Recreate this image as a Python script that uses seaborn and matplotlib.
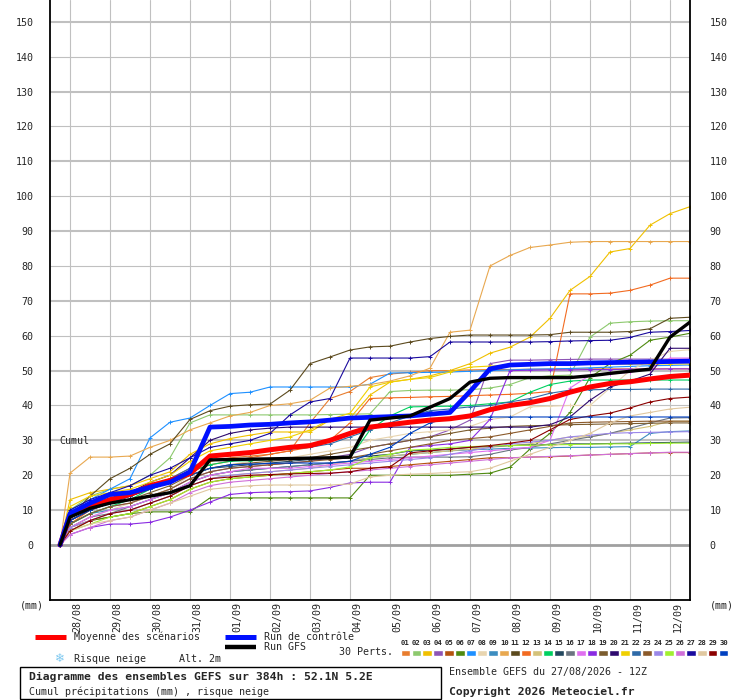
"""
Diagramme des ensembles GEFS : cumul de précipitations (style Meteociel)
"""

import numpy as np
import pandas as pd
import matplotlib.pyplot as plt
import seaborn as sns
from matplotlib.lines import Line2D
from matplotlib.patches import Rectangle
from matplotlib import transforms

# ---------- données ----------
heures = [6, 12, 24, 36, 48, 60, 72, 84, 96, 108, 120, 132, 144, 156, 168, 180, 192,
          204, 216, 228, 240, 252, 264, 276, 288, 300, 312, 324, 336, 348, 360, 372, 384]

jours_h = [12, 36, 60, 84, 108, 132, 156, 180, 204, 228, 252, 276, 300, 324, 348, 372]
jours_lbl = ['28/08', '29/08', '30/08', '31/08', '01/09', '02/09', '03/09', '04/09',
             '05/09', '06/09', '07/09', '08/09', '09/09', '10/09', '11/09', '12/09']

moyenne = [0, 8.6, 11, 13, 14.5, 17, 18.5, 20.5, 25.5, 26, 26.5, 27.3, 28, 28.5, 30, 32,
           33.8, 34.5, 35.2, 35.8, 36.2, 37, 38.8, 40, 40.8, 42, 43.8, 45.3, 46.3, 46.8,
           47.6, 48.3, 48.7]
controle = [0, 9, 12, 14.5, 15, 16.6, 18, 21, 33.8, 34, 34.4, 34.6, 35, 35.3, 35.8, 36.4,
            36.6, 36.8, 37, 37.5, 38, 44, 50.5, 51.6, 51.8, 52, 52, 52.2, 52.3, 52.4,
            52.5, 52.6, 52.7]
gfs = [0, 8, 10.5, 12, 13, 14, 15, 17, 24.4, 24.5, 24.6, 24.7, 24.8, 24.9, 25, 25.2,
       35.8, 36.4, 37, 39.5, 42, 46.7, 47.8, 48, 48, 48, 48, 48.5, 49.2, 49.8, 50.4,
       59.6, 63.9]

perts = {
    '01': [0, 9, 12, 14, 15, 17, 19, 22, 24, 25, 25.5, 26, 27, 35, 42, 44, 48, 49, 49.5,
           50, 50, 50.2, 50.3, 50.3, 50.4, 50.4, 50.5, 50.5, 50.5, 50.5, 50.5, 50.5, 50.5],
    '02': [0, 10, 14, 16, 17, 20, 25, 35, 37.3, 37.3, 37.3, 37.3, 37.3, 37.3, 37.4, 37.5,
           37.6, 44, 44.3, 44.4, 44.4, 44.5, 45, 46, 48, 48.5, 48.7, 59.6, 63.6, 64, 64.2,
           64.3, 64.3],
    '03': [0, 13, 15, 16, 17, 19, 21, 26, 29, 30.5, 31.5, 32.4, 32.4, 32.4, 35.8, 36.4,
           43, 46.7, 47.5, 48.5, 50, 52, 55, 56.7, 59.6, 65, 73, 77, 84, 85, 91.7, 95, 97],
    '04': [0, 6, 9, 11, 12, 14, 16, 19, 21, 22, 22.5, 23, 23.5, 24, 25, 26, 28, 29, 30,
           31, 33, 35.8, 52, 53, 53, 53.1, 53.2, 53.3, 53.3, 53.3, 53.3, 53.3, 53.3],
    '05': [0, 5, 7, 8, 9, 11, 13, 16, 18, 19, 19.5, 20, 20.5, 21, 21.5, 22, 22, 22.5, 23,
           23.5, 24, 24.5, 25, 25, 25.2, 25.3, 25.5, 25.8, 26, 26.2, 26.4, 26.5, 26.5],
    '06': [0, 4, 7, 8, 9, 9.5, 9.5, 9.5, 13.5, 13.5, 13.5, 13.5, 13.5, 13.5, 13.5, 13.5,
           20, 20, 20, 20, 20, 20.3, 20.6, 22.3, 27.5, 32, 38, 48, 52, 54.4, 58.7, 59.6, 60.7],
    '07': [0, 10, 13, 16, 19, 30.7, 35.2, 36.4, 40, 43.4, 43.8, 45.3, 45.3, 45.3, 45.3,
           45.3, 46.1, 49.3, 49.4, 49.5, 49.6, 49.8, 50, 50.2, 50.4, 50.5, 50.6, 50.8, 51,
           51.2, 51.4, 51.5, 51.6],
    '08': [0, 5, 8, 10, 12, 14, 16, 20, 22, 23, 24, 24.5, 25, 26, 27, 28, 30, 31, 32, 32.5,
           33, 34, 36, 36.7, 39.6, 39.8, 40, 40, 45, 50, 53, 55.5, 56],
    '09': [0, 6, 9, 10, 11, 13, 15, 18, 20, 21, 21.5, 22, 22.5, 23, 23.5, 24, 25, 25.5, 26,
           26.5, 27, 27.3, 27.5, 27.7, 27.8, 27.9, 28, 28, 28.1, 28.2, 32, 32.5, 32.7],
    '10': [0, 20.6, 25.2, 25.2, 25.5, 28, 30, 33, 35, 37, 38, 40, 40.5, 41.5, 45, 45.5, 46,
           47, 48.5, 50.7, 61, 61.6, 80, 83, 85.3, 86, 86.8, 87, 87, 87, 87, 87, 87],
    '11': [0, 8, 14, 19, 22, 26, 29, 36, 38.5, 39.8, 40.2, 40.4, 44.4, 52, 53.9, 55.9,
           56.8, 57, 58.2, 59.2, 59.8, 60.2, 60.2, 60.2, 60.2, 60.3, 61, 61, 61, 61.2, 62,
           65, 65.3],
    '12': [0, 6, 10, 12, 14, 16, 18, 21, 23, 24, 25, 26, 27, 28, 30, 35, 42, 42.2, 42.3,
           42.5, 42.6, 42.8, 43, 43.2, 43.5, 44, 72, 72, 72.2, 73, 74.5, 76.5, 76.5],
    '13': [0, 4, 7, 9, 10, 12, 14, 17, 19, 20, 20.5, 21, 21.5, 22, 23, 24, 25, 25.5, 26,
           26.5, 27, 27.5, 28, 28.5, 29, 30, 31, 31, 32, 33, 34, 35.5, 35.5],
    '14': [0, 6, 9, 11, 13, 16, 18, 21, 23, 24, 24.2, 24.5, 24.7, 24.8, 24.9, 25, 33, 37,
           39.6, 39.7, 39.8, 40, 40.5, 41, 43.8, 46, 47, 47.3, 47.3, 47.3, 47.3, 47.3, 47.3],
    '15': [0, 7, 10, 12, 14, 16, 18, 20, 22, 22.5, 23, 23.5, 24, 24.5, 25, 25, 25.5, 26, 27,
           27.2, 27.5, 28, 28.3, 28.5, 28.7, 28.8, 29, 29, 29.1, 29.2, 29.3, 29.4, 29.5],
    '16': [0, 5, 8, 9, 11, 13, 15, 18, 20, 21, 21.5, 22, 22.5, 23, 23.5, 24, 24.5, 25, 25.2,
           25.2, 25.2, 25.3, 26, 27.2, 28, 29, 30, 31, 32, 33.5, 35, 36.4, 36.5],
    '17': [0, 5, 8, 10, 11, 13, 15, 18, 20, 21, 22, 22, 22, 22.5, 23, 23.5, 24, 24.5, 25,
           25.5, 26, 26.5, 27, 27.5, 28, 30, 45, 48.7, 49, 49.5, 50.5, 53.6, 53.6],
    '18': [0, 3, 5, 6, 6, 6.5, 8, 10, 12.3, 14.5, 15, 15.2, 15.3, 15.5, 16.5, 17.8, 18, 18,
           28, 28.5, 29, 30, 36, 50, 50.1, 50.2, 50.2, 50.3, 50.3, 50.4, 50.4, 50.5, 50.5],
    '19': [0, 7, 10, 12, 13, 15, 17, 20, 22, 23, 23.5, 24, 24.5, 25, 26, 27, 28, 29, 30,
           31, 32, 33, 33.5, 34, 34.2, 34.3, 34.5, 34.6, 34.7, 34.8, 34.9, 35, 35],
    '20': [0, 7, 10, 13, 15, 18, 20, 25, 30, 32, 33, 33.5, 33.8, 33.8, 33.8, 33.8, 33.8,
           33.8, 33.8, 33.8, 33.8, 33.8, 33.8, 33.8, 33.8, 34.5, 36.7, 41.5, 45.3, 47, 49,
           56.4, 56.4],
    '21': [0, 11, 14, 15, 16, 18, 20, 24, 27, 28, 29, 30, 31, 33, 36, 37.8, 45.3, 46.7,
           47.5, 48, 49.6, 51, 51.3, 51.5, 51.6, 51.7, 51.8, 51.9, 51.9, 51.9, 51.9, 51.9, 51.9],
    '22': [0, 8, 11, 13, 15, 17, 19, 22, 25, 26, 26.5, 27, 27.5, 28, 29, 31, 33, 35, 37,
           38.5, 39, 39.6, 40, 41, 42, 43.5, 44.4, 44.5, 44.6, 44.6, 44.7, 44.7, 44.7],
    '23': [0, 6, 9, 11, 12, 14, 16, 19, 21, 22, 22.5, 23, 23.5, 24, 24.5, 25, 26, 27, 28,
           29, 30, 30.5, 31, 32, 33, 34, 35, 35.2, 35.3, 35.4, 35.5, 35.5, 35.5],
    '24': [0, 5, 7, 9, 10, 12, 14, 17, 19, 20, 20.5, 21, 21.5, 22, 22.5, 23, 23.5, 24,
           24.5, 25, 26, 27, 28, 29, 29.5, 30, 31, 31.5, 32, 32.2, 32.3, 32.4, 32.5],
    '25': [0, 4, 6, 8, 9, 11, 13, 16, 18, 19, 19.5, 20, 20.5, 21, 21.5, 22.4, 25, 26, 27.2,
           27.5, 28, 28.2, 28.4, 28.5, 28.6, 28.7, 28.8, 28.9, 29, 29, 29.1, 29.2, 29.2],
    '26': [0, 3, 5, 7, 8, 10, 12, 15, 17, 18, 18.5, 19, 19.5, 20, 20.5, 21, 21.5, 22, 22.5,
           23, 23.5, 24, 24.5, 25, 25.2, 25.4, 25.6, 25.8, 26, 26.2, 26.4, 26.6, 26.6],
    '27': [0, 10, 13, 15, 17, 20, 22, 25, 28, 29, 30, 32, 37.3, 41, 42, 53.6, 53.6, 53.6,
           53.6, 54, 58.2, 58.2, 58.2, 58.2, 58.2, 58.3, 58.5, 58.6, 58.7, 59.5, 61, 61.2, 61.5],
    '28': [0, 4, 6, 7, 8, 10, 12, 14, 16, 16.5, 17, 17.2, 17.2, 17.2, 17.2, 17.5, 19.5, 20,
           20.3, 20.5, 20.8, 21, 22, 24, 26, 28, 30, 32, 35, 37, 38, 39, 39.5],
    '29': [0, 4, 7, 9, 10, 12, 14, 17, 19, 19.5, 20, 20.2, 20.4, 20.5, 20.6, 21, 22, 22.4,
           26.4, 27, 27.5, 28, 28.5, 29.2, 30, 33, 36, 37, 37.8, 39.3, 41, 42, 42.4],
    '30': [0, 7, 10, 12, 14, 16, 18, 20, 22, 23, 23.2, 23.4, 23.5, 23.5, 23.5, 24, 26, 28,
           32, 35, 36.5, 36.7, 36.7, 36.7, 36.7, 36.7, 36.7, 36.7, 36.7, 36.7, 36.7, 36.7, 36.7],
}

couleurs = ['#e87d2f', '#8dc96e', '#f0c000', '#8e55b5', '#b5530e', '#4f8a10', '#1e90ff',
            '#e8d5b0', '#3c8dc0', '#e8a850', '#5c4a1e', '#f26b21', '#d4c27a', '#00d060',
            '#24475e', '#6b7480', '#e070f0', '#8a2be2', '#7b5c2e', '#2e0a6e', '#f0d000',
            '#2e6aa8', '#8b5a2b', '#9b88e8', '#a0f030', '#d070d8', '#1a0a9e', '#e0c8a0',
            '#8b0000', '#0040c0']

for k, v in perts.items():
    assert len(v) == len(heures), k

# ---------- mise en forme ----------
sns.set_style('white')
plt.rcParams['font.family'] = ['DejaVu Sans Mono', 'DejaVu Sans']

W, H = 740, 700


def fx(x):
    return x / W


def fy(y):
    return 1 - y / H


fig = plt.figure(figsize=(7.4, 7.0), dpi=100)
ax = fig.add_axes([fx(50), fy(600), fx(640), 600 / H])

# grille
for h in jours_h:
    ax.axvline(h, color='#c0c0c0', lw=0.8, zorder=0)
for v in range(10, 151, 10):
    lw = 1.5 if (v // 10) % 2 == 1 else 0.8
    ax.axhline(v, color='#c0c0c0', lw=lw, zorder=0)
ax.axhline(0, color='#a0a0a0', lw=2.0, zorder=0)

# perturbations
df = pd.DataFrame([
    {'heure': h, 'cumul': val, 'membre': k}
    for k, serie in perts.items() for h, val in zip(heures, serie)
])
palette = dict(zip(perts.keys(), couleurs))
n_avant = len(ax.lines)
sns.lineplot(data=df, x='heure', y='cumul', hue='membre', palette=palette,
             estimator=None, legend=False, lw=0.8, marker='+', markersize=3,
             markeredgewidth=0.7, ax=ax, zorder=2)
# seaborn met les bords des marqueurs en blanc : on reprend la couleur du trait
for ln in ax.lines[n_avant:]:
    ln.set_markeredgecolor(ln.get_color())

sns.lineplot(x=heures, y=moyenne, color='#ff0000', lw=3.6, ax=ax, zorder=4)
sns.lineplot(x=heures, y=controle, color='#0010ff', lw=3.4, ax=ax, zorder=4)
sns.lineplot(x=heures, y=gfs, color='black', lw=2.4, ax=ax, zorder=5)

ax.set_xlim(0, 384)
ax.set_ylim(-15.77, 156.25)
ax.set_yticks(range(0, 151, 10))
ax.set_xticks([])
ax.tick_params(axis='y', length=0, labelsize=7.2, labelright=True, pad=12)
for t in ax.yaxis.get_major_ticks():
    t.label2.set_transform(t.label2.get_transform() +
                           transforms.ScaledTranslation(0.03, 0, fig.dpi_scale_trans))
ax.set_xlabel('')
ax.set_ylabel('')
ax.spines['top'].set_visible(False)
for s in ['left', 'right', 'bottom']:
    ax.spines[s].set_color('black')
    ax.spines[s].set_linewidth(1.3)

# dates
trans = transforms.blended_transform_factory(ax.transData, ax.transAxes)
for h, lbl in zip(jours_h, jours_lbl):
    ax.text(h + 4.4, -0.004, lbl, rotation=90, ha='center', va='top',
            fontsize=7.2, transform=trans)

ax.text(5.4, 29.8, 'Cumul', fontsize=7.2, ha='left', va='center')
fig.text(fx(20), fy(606), '(mm)', fontsize=7.2, ha='left', va='center')
fig.text(fx(710), fy(606), '(mm)', fontsize=7.2, ha='left', va='center')


# légende
def trait(x0, x1, y, color, lw):
    fig.add_artist(Line2D([fx(x0), fx(x1)], [fy(y), fy(y)], color=color, lw=lw,
                          transform=fig.transFigure, solid_capstyle='butt'))


trait(35, 66, 637, '#ff0000', 3.6)
fig.text(fx(74), fy(637), 'Moyenne des scénarios', fontsize=7.2, va='center')
trait(225, 256, 637, '#0010ff', 3.6)
fig.text(fx(264), fy(637), 'Run de contrôle', fontsize=7.2, va='center')
trait(225, 256, 647, 'black', 3.2)
fig.text(fx(264), fy(647), 'Run GFS', fontsize=7.2, va='center')
fig.text(fx(60), fy(659), '❄', fontsize=8.5, color='#7cc8f0', ha='center',
         va='center', family='DejaVu Sans')
fig.text(fx(74), fy(659), 'Risque neige', fontsize=7.2, va='center')
fig.text(fx(179), fy(659), 'Alt. 2m', fontsize=7.2, va='center')
fig.text(fx(339), fy(652), '30 Perts.', fontsize=7.2, va='center')

sw = fig.add_axes([fx(400), fy(656), fx(329), 6.5 / H])
sw.bar(range(30), [1] * 30, width=0.9, color=couleurs)
sw.set_xlim(-0.5, 29.5)
sw.set_ylim(0, 1)
sw.axis('off')
for i, num in enumerate(perts.keys()):
    fig.text(fx(400 + (i + 0.5) * 329 / 30), fy(643), num, fontsize=5.2,
             ha='center', va='center', fontweight='bold')

fig.add_artist(Rectangle((fx(20), fy(699)), fx(421), 32 / H, fill=False,
                         ec='black', lw=1.0, transform=fig.transFigure))
fig.text(fx(29), fy(677), 'Diagramme des ensembles GEFS sur 384h : 52.1N 5.2E',
         fontsize=8.2, fontweight='bold', va='center')
fig.text(fx(29), fy(692), 'Cumul précipitations (mm) , risque neige',
         fontsize=7.2, va='center')
fig.text(fx(449), fy(672), 'Ensemble GEFS du 27/08/2026 - 12Z', fontsize=7.2,
         va='center')
fig.text(fx(449), fy(692), 'Copyright 2026 Meteociel.fr', fontsize=8.2,
         fontweight='bold', va='center')

fig.savefig('out.png', dpi=100)
plt.close(fig)
